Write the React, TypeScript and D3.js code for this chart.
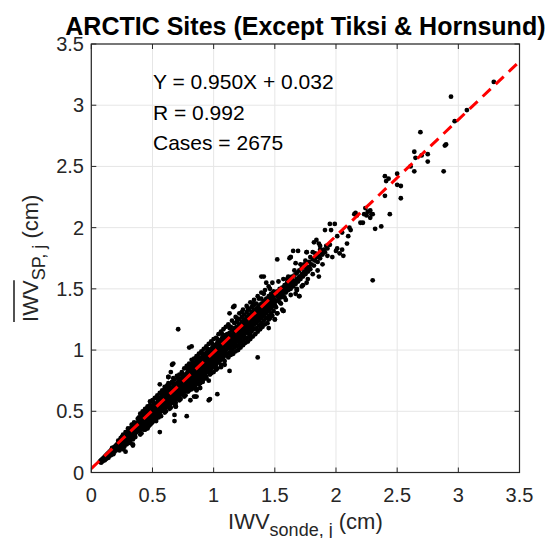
import React from "react";
import * as d3 from "d3";

// ---------- data (values in hundredths of cm: [IWV_sonde, IWV_SP]) ----------
const xTicks = [0, 0.5, 1, 1.5, 2, 2.5, 3, 3.5];
const yTicks = [0, 0.5, 1, 1.5, 2, 2.5, 3, 3.5];
const fitSlope = 0.95;
const fitIntercept = 0.032;
const titleText = "ARCTIC Sites (Except Tiksi & Hornsund)";
const statLines = ["Y = 0.950X + 0.032", "R = 0.992", "Cases = 2675"];

const bandLow: number[][] = [
  [7,9],[8,8],[8,10],[9,9],[9,11],[10,10],[10,12],[11,10],[11,12],[11,13],[12,11],[12,13],[12,14],[13,12],[13,14],[13,15],
  [14,12],[14,13],[14,15],[14,16],[15,14],[15,16],[15,17],[16,14],[16,15],[16,17],[16,18],[17,15],[17,17],[17,19],[17,20],
  [18,15],[18,16],[18,18],[18,20],[19,17],[19,19],[19,21],[20,18],[20,20],[20,22],[21,19],[21,21],[21,23],[22,20],[22,22],
  [22,24],[22,26],[23,18],[23,21],[23,23],[23,25],[24,20],[24,22],[24,24],[24,26],[24,28],[25,23],[25,25],[25,27],[25,29],
  [26,22],[26,24],[26,26],[26,28],[26,31],[27,21],[27,24],[27,26],[27,28],[27,30],[28,17],[28,25],[28,27],[28,29],[28,31],
  [28,33],[29,23],[29,26],[29,28],[29,30],[29,33],[30,25],[30,27],[30,29],[30,31],[30,33],[31,26],[31,28],[31,30],[31,32],
  [31,35],[32,27],[32,29],[32,31],[32,33],[32,36],[33,29],[33,31],[33,33],[33,36],[33,39],[34,22],[34,27],[34,30],[34,32],
  [34,34],[34,37],[35,31],[35,33],[35,35],[35,38],[36,29],[36,32],[36,34],[36,36],[36,39],[30,36],[26,19],[32,24],[35,41]
];

const bandMidLow: number[][] = [
  [37,33],[37,35],[37,37],[37,40],[38,34],[38,36],[38,38],[38,41],[38,44],[39,34],[39,37],[39,39],[39,42],[39,45],[40,31],
  [40,35],[40,38],[40,40],[40,43],[41,36],[41,39],[41,41],[41,44],[42,37],[42,40],[42,42],[42,45],[42,48],[43,35],[43,38],
  [43,41],[43,43],[43,46],[44,38],[44,41],[44,44],[44,47],[45,40],[45,42],[45,45],[45,48],[45,51],[46,36],[46,40],[46,43],
  [46,46],[46,49],[47,38],[47,41],[47,44],[47,47],[47,50],[48,43],[48,45],[48,48],[48,51],[48,55],[49,43],[49,46],[49,49],
  [49,52],[50,41],[50,44],[50,47],[50,50],[50,53],[51,45],[51,48],[51,51],[51,54],[51,57],[52,43],[52,46],[52,49],[52,52],
  [52,55],[53,44],[53,47],[53,50],[53,53],[53,56],[54,48],[54,51],[54,54],[54,57],[54,60],[55,45],[55,48],[55,51],[55,54],
  [55,58],[56,33],[56,49],[56,52],[56,55],[56,58],[56,61],[57,50],[57,54],[57,57],[57,60],[58,51],[58,54],[58,57],[58,60],
  [58,63],[58,67],[59,52],[59,55],[59,58],[59,61],[60,52],[60,55],[60,58],[60,61],[60,64],[60,70],[61,53],[61,56],[61,59],
  [61,62],[61,65],[62,54],[62,57],[62,60],[62,63],[62,66],[63,55],[63,58],[63,61],[63,64],[63,67],[63,73],[64,55],[64,58],
  [64,61],[64,64],[64,67],[65,57],[65,60],[65,63],[65,66],[65,69],[66,57],[66,60],[66,63],[66,66],[66,69],[66,88],[67,58],
  [67,61],[67,64],[67,67],[67,70],[68,42],[68,47],[68,59],[68,62],[68,65],[68,68],[68,71],[69,54],[69,60],[69,63],[69,66],
  [69,69],[69,72],[70,61],[70,64],[70,67],[70,70],[70,73],[71,62],[71,65],[71,68],[71,71],[71,74],[71,117],[72,62],[72,65],
  [72,68],[72,71],[72,75],[73,64],[73,67],[73,70],[73,73],[73,76],[74,64],[74,67],[74,70],[74,73],[74,77],[75,66],[75,69],
  [75,72],[75,75],[75,78],[76,66],[76,69],[76,72],[76,75],[76,79],[77,68],[77,71],[77,74],[77,77],[77,80],[78,46],[78,68],
  [78,71],[78,74],[78,77],[78,81],[79,70],[79,73],[79,76],[79,79],[79,83],[80,70],[80,73],[80,76],[80,79],[80,83],[80,102],
  [81,59],[82,103],[63,78],[65,82],[69,54],[85,62],[86,67],[84,62]
];

const bandMidLowEdges: number[][] = [
  [40,48],[42,50],[44,52],[46,54],[48,58],[50,59],[52,61],[54,63],[56,65],[58,66],[60,68],[62,71],[64,72],[66,74],[68,76],
  [70,79],[72,80],[74,82],[76,85],[78,87],[80,89],[41,32],[45,36],[49,40],[53,42],[57,46],[61,50],[65,53],[69,57],[73,60],
  [77,63],[79,66],[43,49],[47,53],[51,56],[55,61],[59,64],[63,69],[67,73],[71,77],[75,80],[79,86],[44,35],[48,39],[52,44],
  [56,47],[60,49],[64,52],[68,56],[72,59],[76,62],[80,67],[63,78],[86,68],[69,54],[34,23],[56,72],[67,89],[67,77]
];

const bandMid: number[][] = [
  [81,70],[81,74],[81,78],[81,82],[81,86],[82,72],[82,76],[82,80],[82,84],[82,88],[83,71],[83,75],[83,79],[83,83],[83,87],
  [84,73],[84,77],[84,81],[84,85],[84,89],[85,73],[85,77],[85,81],[85,85],[85,89],[86,75],[86,79],[86,83],[86,87],[86,91],
  [87,75],[87,79],[87,83],[87,87],[87,91],[88,77],[88,81],[88,85],[88,89],[88,93],[89,76],[89,80],[89,84],[89,88],[89,92],
  [90,75],[90,78],[90,82],[90,86],[90,90],[90,94],[91,78],[91,82],[91,86],[91,90],[91,94],[92,80],[92,84],[92,88],[92,92],
  [92,96],[93,80],[93,84],[93,88],[93,92],[93,96],[94,82],[94,86],[94,90],[94,94],[94,98],[95,82],[95,86],[95,90],[95,94],
  [95,98],[96,75],[96,84],[96,88],[96,92],[96,96],[96,100],[97,83],[97,87],[97,91],[97,95],[97,99],[98,85],[98,89],[98,93],
  [98,97],[98,101],[99,86],[99,90],[99,94],[99,98],[99,102],[100,86],[100,90],[100,94],[100,98],[100,102],[101,88],[101,92],
  [101,96],[101,100],[101,104],[102,88],[102,92],[102,96],[102,100],[102,104],[103,90],[103,94],[103,98],[103,102],[103,106],
  [104,90],[104,94],[104,98],[104,102],[104,106],[105,92],[105,96],[105,100],[105,104],[105,108],[106,92],[106,96],[106,100],
  [106,104],[106,108],[107,94],[107,98],[107,102],[107,106],[107,110],[108,94],[108,98],[108,102],[108,106],[108,110],
  [109,96],[109,100],[109,104],[109,108],[109,112],[110,96],[110,100],[110,104],[110,108],[110,112],[91,75],[96,59],[103,64],
  [97,60],[92,77],[94,77],[86,62],[89,69]
];

const bandMidEdges: number[][] = [
  [82,92],[84,93],[86,95],[88,97],[90,99],[92,101],[94,103],[96,105],[98,107],[100,109],[102,110],[104,113],[106,115],
  [108,117],[110,119],[82,68],[85,70],[88,72],[91,74],[94,78],[97,80],[100,82],[103,85],[106,88],[109,91],[83,90],[87,94],
  [91,97],[95,101],[99,105],[103,109],[107,113],[84,69],[89,73],[93,77],[98,81],[102,84],[106,86],[109,88],[113,83]
];

const bandHigh: number[][] = [
  [111,97],[111,101],[111,105],[111,109],[111,113],[112,103],[112,107],[112,111],[113,98],[113,102],[113,106],[113,110],
  [113,114],[113,118],[113,130],[114,101],[114,105],[114,109],[115,100],[115,104],[115,108],[115,112],[115,116],[116,105],
  [116,109],[116,113],[116,135],[117,102],[117,106],[117,110],[117,114],[117,118],[117,122],[118,104],[118,108],[118,116],
  [119,103],[119,107],[119,111],[119,115],[119,119],[119,123],[120,108],[120,112],[120,118],[121,105],[121,109],[121,113],
  [121,117],[121,121],[121,125],[122,110],[122,114],[122,120],[123,107],[123,111],[123,115],[123,119],[123,123],[123,127],
  [124,112],[124,116],[124,122],[125,109],[125,113],[125,117],[125,121],[125,125],[125,129],[126,114],[126,118],[126,124],
  [127,110],[127,115],[127,119],[127,123],[127,127],[127,131],[128,116],[128,120],[128,126],[129,113],[129,117],[129,121],
  [129,125],[129,129],[129,133],[130,112],[130,118],[130,122],[130,128],[131,115],[131,119],[131,123],[131,127],[131,131],
  [131,135],[132,120],[132,124],[132,130],[133,117],[133,121],[133,125],[133,129],[133,133],[133,137],[134,122],[134,126],
  [134,132],[135,118],[135,122],[135,126],[135,130],[135,134],[135,138],[136,94],[136,124],[136,128],[136,134],[137,120],
  [137,124],[137,128],[137,132],[137,136],[138,126],[138,130],[138,136],[139,122],[139,126],[139,130],[139,134],[139,138],
  [139,142],[140,128],[140,132],[140,138],[141,124],[141,128],[141,132],[141,136],[141,140],[141,160],[142,130],[142,134],
  [142,140],[143,126],[143,130],[143,134],[143,138],[143,142],[143,155],[144,132],[144,136],[144,141],[145,118],[145,125],
  [145,128],[145,132],[145,136],[145,140],[145,144],[146,134],[146,138],[146,143],[147,130],[147,134],[147,138],[147,142],
  [147,146],[148,136],[148,140],[148,145],[149,132],[149,136],[149,140],[149,144],[149,148],[150,125],[150,137],[150,141],
  [150,146],[151,140],[152,130],[152,144],[152,148],[152,174],[153,141],[154,145],[154,150],[155,143],[155,147],[156,146],
  [156,151],[157,132],[157,144],[157,149],[158,148],[158,153],[159,147],[159,151],[160,150],[160,155],[161,149],[161,153],
  [162,152],[162,158],[162,175],[163,150],[163,155],[163,176],[164,154],[165,152],[165,157],[165,181],[166,156],[166,161],
  [167,154],[167,171],[168,149],[168,158],[168,163],[169,156],[169,181],[170,144],[170,160],[170,165],[171,158],[172,162],
  [172,167],[173,160],[174,164],[175,162],[175,168],[176,166],[176,180],[177,164],[178,168],[178,172],[179,166],[180,170],
  [181,174],[181,180],[182,169],[182,188],[183,173],[184,176],[184,190],[185,172],[186,177],[186,187],[187,175],[187,182],
  [188,180],[189,178],[190,182],[191,180],[191,198],[192,185],[193,183],[193,177],[195,186],[196,198],[197,176],[195,203],
  [199,203],[200,181],[201,183],[201,193],[203,179],[205,182],[205,196],[206,177],[209,187],[210,193],[211,200],[212,198]
];

const bandHighEdges: number[][] = [
  [112,121],[115,124],[118,127],[121,130],[124,133],[127,136],[130,139],[133,141],[136,144],[139,147],[142,149],[145,152],
  [148,155],[112,94],[116,97],[120,100],[124,104],[128,107],[132,111],[136,115],[140,119],[144,122],[148,128],[114,119],
  [119,126],[123,131],[128,134],[132,138],[137,142],[141,146],[146,150],[114,96],[118,99],[122,102],[126,106],[130,109],
  [134,113],[138,117],[142,121],[146,126],[151,135],[153,156],[155,138],[157,158],[159,141],[161,160],[163,145],[166,165],
  [168,150],[171,170],[173,153],[175,173],[177,158],[179,176],[181,162],[183,179],[185,165],[187,185],[189,170],[186,160],
  [176,155],[154,139],[158,143],[160,158],[164,160],[167,146],[172,152],[174,170],[117,136],[127,110],[130,112],
  [170,144],[168,149],[157,132],[156,133],[152,130],[150,125],[176,180],[163,176],[139,160]
];

const upperPoints: number[][] = [
  [215,211],[216,212],[217,210],[220,204],[222,204],[223,211],[224,216],[225,210],[226,213],[228,208],[228,214],[229,211],
  [230,211],[230,157],[232,199],[237,201],[244,211],[240,226],[240,242],[241,238],[243,240],[250,244],[250,235],[253,234],
  [253,224],[261,250],[264,246],[264,262],[265,257],[270,259],[275,260],[275,254],[288,246],[289,267],[290,268],[269,278],
  [297,287],[294,307],[307,296],[329,319]
];

const allPoints = [
  ...bandLow, ...bandMidLow, ...bandMidLowEdges, ...bandMid, ...bandMidEdges, ...bandHigh, ...bandHighEdges, ...upperPoints
];

// ---------- layout ----------
const W = 547;
const H = 538;
const plotLeft = 91.3;
const plotRight = 519.5;
const plotTop = 44;
const plotBottom = 472.5;
const FONT = "'Liberation Sans', Arial, Helvetica, sans-serif";
const AX = "#262626";

function measure(text: string, size: number, weight = "normal"): number {
  const c = document.createElement("canvas").getContext("2d");
  if (!c) return text.length * size * 0.55;
  c.font = `${weight} ${size}px 'Liberation Sans', Arial, sans-serif`;
  return c.measureText(text).width;
}

export default function App() {
  const x = d3.scaleLinear().domain([0, 3.5]).range([plotLeft, plotRight]);
  const y = d3.scaleLinear().domain([0, 3.5]).range([plotBottom, plotTop]);
  const tickLen = 5;

  const fitLine = d3
    .line<number>()
    .x((d) => x(d))
    .y((d) => y(fitSlope * d + fitIntercept));

  const labelSize = 22;
  const subSize = 18;
  const wIWV = measure("IWV", labelSize);
  const wSub = measure("SP, j", subSize);
  const wCm = measure(" (cm)", labelSize);
  const yLabTotal = wIWV + wSub + wCm;
  const yLabStart = -yLabTotal / 2;
  const yLabCx = 38;
  const yLabCy = (plotTop + plotBottom) / 2;

  return (
    <svg width={W} height={H} style={{ position: "absolute", left: 0, top: 0, background: "#fff" }}>
      <rect x={0} y={0} width={W} height={H} fill="#fff" />
      {/* grid */}
      {xTicks.map((t) => (
        <line key={"gx" + t} x1={x(t)} x2={x(t)} y1={plotTop} y2={plotBottom} stroke="#e6e6e6" strokeWidth={1} />
      ))}
      {yTicks.map((t) => (
        <line key={"gy" + t} x1={plotLeft} x2={plotRight} y1={y(t)} y2={y(t)} stroke="#e6e6e6" strokeWidth={1} />
      ))}
      <defs>
        <clipPath id="clip">
          <rect x={plotLeft} y={plotTop} width={plotRight - plotLeft} height={plotBottom - plotTop} />
        </clipPath>
      </defs>
      {/* points */}
      <g clipPath="url(#clip)">
        {allPoints.map((p, i) => (
          <circle key={i} cx={x(p[0] / 100)} cy={y(p[1] / 100)} r={2.4} fill="#000" />
        ))}
        <path d={fitLine([0, 3.5]) || ""} fill="none" stroke="#ff0000" strokeWidth={3} strokeDasharray="11,7" />
      </g>
      {/* box */}
      <rect x={plotLeft} y={plotTop} width={plotRight - plotLeft} height={plotBottom - plotTop} fill="none" stroke={AX} strokeWidth={1.2} />
      {xTicks.map((t) => (
        <g key={"tx" + t}>
          <line x1={x(t)} x2={x(t)} y1={plotBottom} y2={plotBottom - tickLen} stroke={AX} />
          <line x1={x(t)} x2={x(t)} y1={plotTop} y2={plotTop + tickLen} stroke={AX} />
          <text x={x(t)} y={502} textAnchor="middle" fontFamily={FONT} fontSize={20} fill={AX}>
            {String(t)}
          </text>
        </g>
      ))}
      {yTicks.map((t) => (
        <g key={"ty" + t}>
          <line x1={plotLeft} x2={plotLeft + tickLen} y1={y(t)} y2={y(t)} stroke={AX} />
          <line x1={plotRight} x2={plotRight - tickLen} y1={y(t)} y2={y(t)} stroke={AX} />
          <text x={84} y={y(t) + 7} textAnchor="end" fontFamily={FONT} fontSize={20} fill={AX}>
            {String(t)}
          </text>
        </g>
      ))}
      {/* title */}
      <text x={(plotLeft + plotRight) / 2} y={35} textAnchor="middle" fontFamily={FONT} fontWeight="bold" fontSize={25} fill="#000">
        {titleText}
      </text>
      {/* stats */}
      {statLines.map((s, i) => (
        <text key={s} x={153} y={89 + i * 30.5} fontFamily={FONT} fontSize={21} fill="#000">
          {s}
        </text>
      ))}
      {/* x label */}
      <text x={(plotLeft + plotRight) / 2} y={529} textAnchor="middle" fontFamily={FONT} fontSize={labelSize} fill={AX}>
        <tspan>IWV</tspan>
        <tspan fontSize={subSize} dy={7}>sonde, j</tspan>
        <tspan dy={-7}> (cm)</tspan>
      </text>
      {/* y label */}
      <g transform={`translate(${yLabCx},${yLabCy}) rotate(-90)`}>
        <text x={yLabStart} y={0} fontFamily={FONT} fontSize={labelSize} fill={AX}>
          <tspan>IWV</tspan>
          <tspan fontSize={subSize} dy={7}>SP, j</tspan>
          <tspan dy={-7}> (cm)</tspan>
        </text>
        <line x1={yLabStart} x2={yLabStart + wIWV} y1={-24} y2={-24} stroke={AX} strokeWidth={1.6} />
      </g>
    </svg>
  );
}
